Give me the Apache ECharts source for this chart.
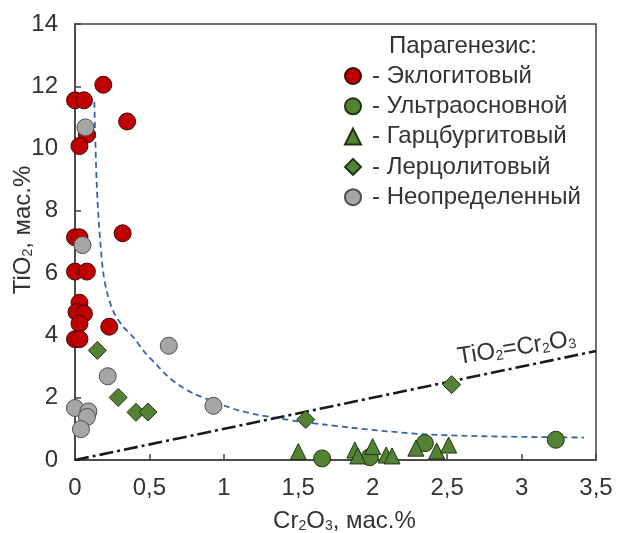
<!DOCTYPE html>
<html>
<head>
<meta charset="utf-8">
<script src="https://cdn.jsdelivr.net/npm/echarts@6/dist/echarts.min.js"></script>
<style>
  html, body { margin: 0; padding: 0; background: #fff; }
  #chart { width: 617px; height: 533px; }
</style>
</head>
<body>
<div id="chart"></div>
<script>
// Cr2O3 (x) and TiO2 (y), wt.%, by paragenesis
const eclogite = [
  [0.19, 12.05], [0.0, 11.55], [0.06, 11.55], [0.35, 10.87], [0.08, 10.45],
  [0.03, 10.08], [0.0, 7.15], [0.03, 7.15], [0.32, 7.28], [0.0, 6.05],
  [0.08, 6.05], [0.03, 5.05], [0.01, 4.75], [0.06, 4.7], [0.03, 4.38],
  [0.23, 4.28], [0.0, 3.88], [0.03, 3.88]
];
const ultramafic = [[1.66, 0.05], [1.98, 0.09], [2.35, 0.54], [3.23, 0.65]];
const harzburgite = [
  [1.50, 0.27], [1.88, 0.32], [1.90, 0.13], [2.0, 0.43], [2.09, 0.16],
  [2.13, 0.13], [2.29, 0.38], [2.43, 0.29], [2.51, 0.48]
];
const lherzolite = [[0.15, 3.52], [0.29, 2.01], [0.41, 1.53], [0.49, 1.54], [1.55, 1.30], [2.53, 2.42]];
const undefinedGroup = [
  [0.07, 10.68], [0.05, 6.9], [0.63, 3.67], [0.22, 2.69], [0.0, 1.67],
  [0.09, 1.56], [0.08, 1.38], [0.04, 0.99], [0.93, 1.74]
];

// Boundary trend (dashed) and the TiO2 = Cr2O3 reference line
const trendCr = [0.13, 0.135, 0.145, 0.155, 0.17, 0.19, 0.22, 0.26, 0.32, 0.39, 0.47, 0.55, 0.62, 0.70, 0.79, 0.88, 1.0, 1.11, 1.23, 1.35, 1.5, 1.67, 1.85, 2.1, 2.34, 2.6, 2.9, 3.2, 3.42];
const trendTi = [11.5, 10.5, 9.0, 8.0, 7.0, 6.0, 5.3, 4.75, 4.3, 3.95, 3.45, 3.05, 2.7, 2.4, 2.15, 1.97, 1.75, 1.58, 1.45, 1.35, 1.24, 1.14, 1.04, 0.92, 0.83, 0.78, 0.75, 0.73, 0.72];
const equalLine = [[0, 0], [3.5, 3.5]];

const seriesNames = ['Эклогитовый', 'Ультраосновной', 'Гарцбургитовый', 'Лерцолитовый', 'Неопределенный'];
const xTicks = ['0', '0,5', '1', '1,5', '2', '2,5', '3', '3,5'];

const textColor = '#333';
const axisColor = '#404040';
const font = 'Liberation Sans, Arial, sans-serif';
const fs = 24;

const chart = echarts.init(document.getElementById('chart'), null, { renderer: 'canvas' });

function scatter(name, data, symbol, size, fill, border) {
  return {
    name, type: 'scatter', data, symbol, symbolSize: size,
    itemStyle: { color: fill, borderColor: border, borderWidth: 1, opacity: 1 },
    emphasis: { disabled: true }, z: 3
  };
}

// main text plus subscript digits
const subRich = {
  a: { fontSize: fs, color: textColor, fontFamily: font, lineHeight: 26, verticalAlign: 'bottom' },
  b: { fontSize: 14, color: textColor, fontFamily: font, lineHeight: 11, verticalAlign: 'bottom' }
};

chart.setOption({
  animation: false,
  textStyle: { fontFamily: font },
  title: {
    text: 'Парагенезис:', left: 389, top: 34, padding: 0,
    textStyle: { fontSize: fs, fontWeight: 'normal', color: textColor, fontFamily: font, lineHeight: 25 }
  },
  legend: {
    data: seriesNames,
    orient: 'vertical', left: 344, top: 64, padding: 0,
    itemWidth: 16, itemHeight: 16, itemGap: 6.3,
    formatter: '- {name}',
    textStyle: { fontSize: fs, color: textColor, fontFamily: font, lineHeight: 24, padding: [0, 0, 0, 6] },
    selectedMode: false
  },
  grid: {
    left: 75, right: 21, top: 24, bottom: 73,
    outerBoundsMode: 'none', containLabel: false,
    show: true, borderColor: axisColor, borderWidth: 1.5, backgroundColor: 'transparent'
  },
  xAxis: {
    type: 'value', min: 0, max: 3.5, interval: 0.5,
    name: '{a|Cr}{b|2}{a|O}{b|3}{a|, мас.%}',
    nameLocation: 'middle', nameGap: 47, nameMoveOverlap: false,
    nameTextStyle: { padding: [0, 0, 0, 18], rich: subRich },
    axisLine: { show: true, lineStyle: { color: axisColor, width: 1.5 } },
    axisTick: { show: true, inside: true, length: 6, lineStyle: { color: axisColor, width: 1.5 } },
    axisLabel: {
      fontSize: fs, color: textColor, margin: 16, fontFamily: font,
      formatter: (v) => xTicks[Math.round(v / 0.5)]
    },
    splitLine: { show: false }
  },
  yAxis: {
    type: 'value', min: 0, max: 14, interval: 2,
    name: '{a|TiO}{b|2}{a|, мас.%}',
    nameLocation: 'middle', nameGap: 40, nameMoveOverlap: false,
    nameTextStyle: { padding: [0, 0, 0, 24], rich: subRich },
    axisLine: { show: true, lineStyle: { color: axisColor, width: 1.5 } },
    axisTick: { show: true, inside: true, length: 6, lineStyle: { color: axisColor, width: 1.5 } },
    axisLabel: { fontSize: fs, color: textColor, margin: 17, fontFamily: font },
    splitLine: { show: false }
  },
  series: [
    {
      name: 'trend', type: 'line', data: trendCr.map((c, i) => [c, trendTi[i]]),
      showSymbol: false, smooth: 0.3,
      lineStyle: { color: '#3b64ad', width: 1.8, type: [6, 4] },
      emphasis: { disabled: true }, silent: true, z: 2
    },
    {
      name: 'equal', type: 'line', data: equalLine, showSymbol: false,
      lineStyle: { color: '#1a1a1a', width: 2.6, type: [14, 4, 3, 4] },
      emphasis: { disabled: true }, silent: true, z: 2,
      markPoint: {
        symbol: 'circle', symbolSize: 0, silent: true,
        data: [{ coord: [3.0, 3.0] }],
        label: {
          show: true, position: 'inside', offset: [-2, -20], rotate: 9,
          formatter: '{a|TiO}{b|2}{a|=Cr}{b|2}{a|O}{b|3}',
          rich: subRich
        }
      }
    },
    scatter(seriesNames[0], eclogite, 'circle', 17, '#c00000', '#3d0a0a'),
    scatter(seriesNames[1], ultramafic, 'circle', 17, '#548235', '#1f3311'),
    scatter(seriesNames[2], harzburgite, 'triangle', 16, '#548235', '#1f3311'),
    scatter(seriesNames[3], lherzolite, 'diamond', 18, '#548235', '#1f3311'),
    scatter(seriesNames[4], undefinedGroup, 'circle', 17, '#a6a6a6', '#4d4d4d')
  ]
});
</script>
</body>
</html>
